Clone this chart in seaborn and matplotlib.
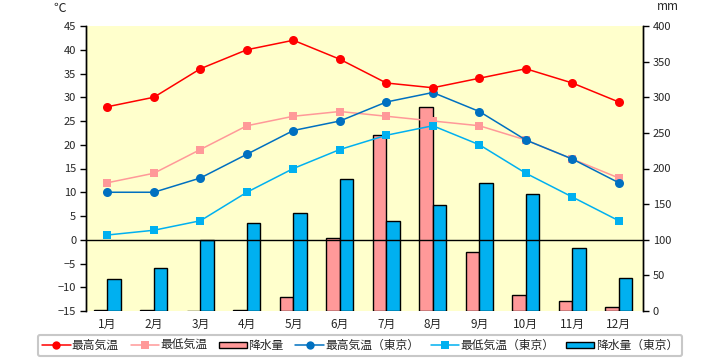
import numpy as np
import pandas as pd
import matplotlib
matplotlib.use("Agg")
import matplotlib.pyplot as plt
import seaborn as sns
from matplotlib.lines import Line2D
from matplotlib.patches import Patch

months = ["1月", "2月", "3月", "4月", "5月", "6月", "7月", "8月", "9月", "10月", "11月", "12月"]
max_temp = [28, 30, 36, 40, 42, 38, 33, 32, 34, 36, 33, 29]
min_temp = [12, 14, 19, 24, 26, 27, 26, 25, 24, 21, 17, 13]
precip = [2, 1, 0, 2, 19, 103, 247, 287, 83, 23, 14, 5]
max_temp_tokyo = [10, 10, 13, 18, 23, 25, 29, 31, 27, 21, 17, 12]
min_temp_tokyo = [1, 2, 4, 10, 15, 19, 22, 24, 20, 14, 9, 4]
precip_tokyo = [45, 60, 100, 124, 138, 185, 126, 149, 179, 164, 89, 46]

temp_ticks = list(range(-15, 50, 5))
mm_ticks = list(range(0, 450, 50))

lab_max = "最高気温"
lab_min = "最低気温"
lab_pr = "降水量"
lab_max_t = "最高気温（東京）"
lab_min_t = "最低気温（東京）"
lab_pr_t = "降水量（東京）"

sns.set_theme(style="white")
plt.rcParams["font.family"] = ["Noto Sans CJK JP", "DejaVu Sans"]

c_red = "#FF0000"
c_pink = "#FF9999"
c_blue = "#0070C0"
c_cyan = "#00B0F0"

fig = plt.figure(figsize=(7.2, 3.6), dpi=100)
ax_bar = fig.add_axes([86 / 720, 1 - 311 / 360, (643 - 86) / 720, (311 - 26) / 360])
ax_bar.set_facecolor("#FFFFCC")

bar_df = pd.DataFrame({
    "month": months * 2,
    "mm": precip + precip_tokyo,
    "series": [lab_pr] * 12 + [lab_pr_t] * 12,
})
sns.barplot(data=bar_df, x="month", y="mm", hue="series", order=months,
            hue_order=[lab_pr, lab_pr_t], palette=[c_pink, c_cyan], saturation=1,
            width=0.58, gap=0, edgecolor="black", linewidth=1.0,
            legend=False, ax=ax_bar, zorder=2)
ax_bar.set_ylim(0, 400)
ax_bar.set_yticks(mm_ticks)
ax_bar.yaxis.tick_right()
ax_bar.yaxis.set_label_position("right")
ax_bar.set_xlabel("")
ax_bar.set_ylabel("")
ax_bar.set_xlim(-0.46, 11.52)

ax_line = ax_bar.twinx()
ax_line.yaxis.tick_left()
ax_line.patch.set_visible(False)
xs = np.arange(12)
ax_line.axhline(0, color="black", lw=1.0, zorder=1)
line_df = pd.DataFrame({
    "x": np.concatenate([xs] * 4),
    "t": max_temp + min_temp + max_temp_tokyo + min_temp_tokyo,
    "series": [lab_max] * 12 + [lab_min] * 12 + [lab_max_t] * 12 + [lab_min_t] * 12,
})
styles = {
    lab_max: (c_red, "o", 6.5),
    lab_min: (c_pink, "s", 6),
    lab_max_t: (c_blue, "o", 6.5),
    lab_min_t: (c_cyan, "s", 6),
}
for name in [lab_min, lab_min_t, lab_max_t, lab_max]:
    col, mk, ms = styles[name]
    sub = line_df[line_df["series"] == name]
    sns.lineplot(data=sub, x="x", y="t", color=col, marker=mk, markersize=ms,
                 markeredgewidth=0, linewidth=1.1, ax=ax_line, zorder=3)
ax_line.set_ylim(-15, 45)
ax_line.set_yticks(temp_ticks)
ax_line.set_xlabel("")
ax_line.set_ylabel("")
ax_line.set_xlim(-0.46, 11.52)

for a in (ax_bar, ax_line):
    for s in ("top", "bottom"):
        a.spines[s].set_visible(False)
    a.spines["left"].set_color("black")
    a.spines["right"].set_color("black")
    a.spines["left"].set_linewidth(1.0)
    a.spines["right"].set_linewidth(1.0)

ax_line.tick_params(axis="y", which="both", left=True, right=False, labelleft=True,
                    labelright=False, length=4, width=1, color="black",
                    labelsize=8, pad=3)
ax_bar.tick_params(axis="y", which="both", left=False, right=True, labelleft=False,
                   labelright=True, length=4, width=1, color="black",
                   labelsize=8, pad=3)
ax_bar.tick_params(axis="x", length=0, labelsize=8.5, pad=5)
ax_line.tick_params(axis="x", length=0, labelbottom=False)

fig.text(60 / 720, 1 - 8 / 360, "℃", fontsize=9, ha="center", va="center")
fig.text(668 / 720, 1 - 7 / 360, "mm", fontsize=8.5, ha="center", va="center")

handles = [
    Line2D([], [], color=c_red, marker="o", markersize=6, markeredgewidth=0, lw=1.1),
    Line2D([], [], color=c_pink, marker="s", markersize=6, markeredgewidth=0, lw=1.1),
    Patch(facecolor=c_pink, edgecolor="black", linewidth=1.0),
    Line2D([], [], color=c_blue, marker="o", markersize=6, markeredgewidth=0, lw=1.1),
    Line2D([], [], color=c_cyan, marker="s", markersize=6, markeredgewidth=0, lw=1.1),
    Patch(facecolor=c_cyan, edgecolor="black", linewidth=1.0),
]
labels = [lab_max, lab_min, lab_pr, lab_max_t, lab_min_t, lab_pr_t]
leg = fig.legend(handles, labels, loc="center", bbox_to_anchor=(360 / 720, 1 - 345.5 / 360),
                 ncol=6, fontsize=8.5, frameon=True, fancybox=True, handlelength=2.4,
                 handleheight=0.45, handletextpad=0.1, columnspacing=1.0,
                 borderpad=0.35, edgecolor="#C8C8C8", facecolor="white", framealpha=1)
leg.get_frame().set_linewidth(1.5)

fig.savefig("out.png", dpi=100)
